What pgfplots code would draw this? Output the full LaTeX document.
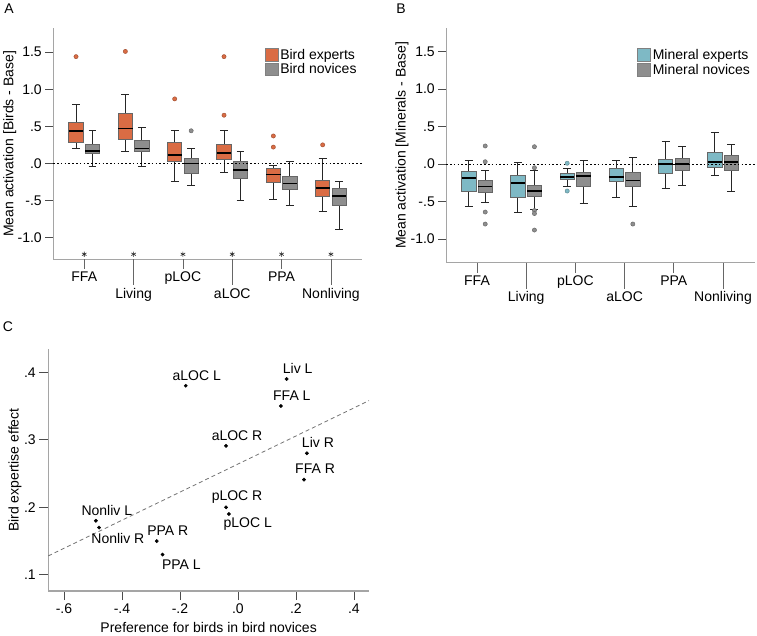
\documentclass[border=0pt]{standalone}
\usepackage{fontspec}
\setmainfont{Liberation Sans}
\usepackage{pgfplots}
\pgfplotsset{compat=1.18}
\usepgfplotslibrary{statistics}

\definecolor{birdor}{RGB}{218,108,68}
\definecolor{minteal}{RGB}{126,185,197}
\definecolor{novgray}{RGB}{142,142,142}
\definecolor{axgray}{RGB}{165,165,165}
\newcommand\fs{\fontsize{14bp}{16.7bp}\selectfont}
\tikzset{xt/.style={black!60, line width=0.8pt}}

\pgfplotsset{
  panel/.style={
    scale only axis, axis x line=bottom, axis y line=left,
    axis line style={axgray, line width=1.2pt, -},
    tick align=outside, tick style={black!70, line width=0.8pt},
    major tick length=8bp,
    tick label style={font=\fs}, label style={font=\fs},
    clip=false,
  },
  bxp/.style 2 args={
    forget plot, boxplot/draw direction=y,
    solid, draw=black!80, line width=0.9pt,
    boxplot/box extend=0.29, boxplot/whisker extend=0.16,
    boxplot/every box/.style={draw=black!60, fill=#1, line width=0.8pt},
    boxplot/every whisker/.style={draw=black!85, line width=1pt},
    boxplot/every median/.style={draw=black, line width=1.8pt},
    mark=*, mark size=2.1bp, mark options={fill=#2, draw=#2!75!black, line width=0.5pt, solid},
  },
  ex/.style={bxp={birdor}{birdor}},
  nv/.style={bxp={novgray}{novgray}},
  mx/.style={bxp={minteal}{minteal}},
  sqleg/.style={legend image code/.code={\draw[##1] (0bp,-6.3bp) rectangle (12.7bp,6.3bp);}},
  boxpanel/.style={
    panel,
    xtick={0,1,2,3,4,5},
    xticklabels={\strut FFA,\strut\\Living,\strut pLOC,\strut\\aLOC,\strut PPA,\strut\\Nonliving},
    x tick style={draw=none},
    xticklabel style={align=center, anchor=north, inner sep=0pt, yshift=-2.5bp},
    ytick={-1,-0.5,0,0.5,1,1.5}, yticklabels={-1.0,-.5,.0,.5,1.0,1.5},
    legend style={draw=none, fill=none, at={(axis description cs:0.99,0.92)}, anchor=north east,
      inner sep=0pt, font=\fs, row sep=-1bp, legend cell align=left},
  },
}

% style, position, lower whisker, lower quartile, median, upper quartile, upper whisker, outliers
\newcommand{\bx}[8]{\addplot[#1, boxplot prepared={draw position=#2, lower whisker=#3,
  lower quartile=#4, median=#5, upper quartile=#6, upper whisker=#7}] coordinates {#8};}
% category tick lines below the x axis, long ones for the lower labels
\newcommand{\catticks}{%
  \pgfplotsinvokeforeach{0,2,4}{\draw[xt] (axis cs:##1,\pgfkeysvalueof{/pgfplots/ymin})
    -- ([yshift=-10bp]axis cs:##1,\pgfkeysvalueof{/pgfplots/ymin});}
  \pgfplotsinvokeforeach{1,3,5}{\draw[xt] (axis cs:##1,\pgfkeysvalueof{/pgfplots/ymin})
    -- ([yshift=-26bp]axis cs:##1,\pgfkeysvalueof{/pgfplots/ymin});}}

\begin{document}
\begin{tikzpicture}
\useasboundingbox (0,0) rectangle (757bp,636bp);

\node[font=\fs] at (9bp,627bp) {A};
\node[font=\fs] at (401bp,627bp) {B};
\node[font=\fs] at (8bp,309bp) {C};

% panel A
\begin{axis}[boxpanel, at={(53.3bp,376.7bp)}, anchor=south west,
  width=308.5bp, height=231bp,
  xmin=-0.628, xmax=5.626, ymin=-1.293, ymax=1.822,
  ylabel={Mean activation [Birds - Base]},
  ylabel style={at={(axis description cs:-0.141,0.5)}, anchor=center}]
\addlegendimage{sqleg, fill=birdor, draw=black!50, line width=0.6pt}
\addlegendentry{Bird experts}
\addlegendimage{sqleg, fill=novgray, draw=black!50, line width=0.6pt}
\addlegendentry{Bird novices}

\bx{ex}{-0.167}{0.20}{0.29}{0.44}{0.55}{0.79}{(0,1.44)}
\bx{nv}{0.167}{-0.04}{0.135}{0.17}{0.26}{0.44}{}
\bx{ex}{0.833}{0.16}{0.32}{0.47}{0.68}{0.93}{(1,1.51)}
\bx{nv}{1.167}{-0.04}{0.16}{0.20}{0.31}{0.48}{}
\bx{ex}{1.833}{-0.24}{0.03}{0.11}{0.29}{0.45}{(2,0.87)}
\bx{nv}{2.167}{-0.30}{-0.13}{0.0}{0.07}{0.20}{(2,0.44)}
\bx{ex}{2.833}{-0.12}{0.06}{0.14}{0.26}{0.44}{(3,0.65) (3,1.44)}
\bx{nv}{3.167}{-0.50}{-0.20}{-0.09}{0.03}{0.16}{}
\bx{ex}{3.833}{-0.48}{-0.26}{-0.15}{-0.07}{-0.03}{(4,0.22) (4,0.37)}
\bx{nv}{4.167}{-0.57}{-0.35}{-0.27}{-0.18}{0.03}{}
\bx{ex}{4.833}{-0.65}{-0.44}{-0.33}{-0.23}{0.07}{(5,0.25)}
\bx{nv}{5.167}{-0.89}{-0.57}{-0.44}{-0.34}{-0.24}{}

\addplot[forget plot, only marks, mark=asterisk, mark size=2.6bp, black!85, line width=0.6pt]
  coordinates {(0,-1.225) (1,-1.225) (2,-1.225) (3,-1.225) (4,-1.225) (5,-1.225)};
\addplot[forget plot, black, line width=0.7pt, dash pattern=on 1.6pt off 2.2pt]
  coordinates {(-0.628,0) (5.626,0)};
\catticks
\end{axis}

% panel B
\begin{axis}[boxpanel, at={(446.3bp,373.3bp)}, anchor=south west,
  width=309bp, height=234.4bp,
  xmin=-0.624, xmax=5.656, ymin=-1.315, ymax=1.808,
  ylabel={Mean activation [Minerals - Base]},
  ylabel style={at={(axis description cs:-0.143,0.5)}, anchor=center}]
\addlegendimage{sqleg, fill=minteal, draw=black!50, line width=0.6pt}
\addlegendentry{Mineral experts}
\addlegendimage{sqleg, fill=novgray, draw=black!50, line width=0.6pt}
\addlegendentry{Mineral novices}

\bx{mx}{-0.167}{-0.56}{-0.37}{-0.19}{-0.10}{0.04}{}
\bx{nv}{0.167}{-0.51}{-0.38}{-0.30}{-0.22}{-0.08}{(0,0.24) (0,0.03) (0,-0.64) (0,-0.80)}
\bx{mx}{0.833}{-0.64}{-0.44}{-0.25}{-0.15}{0.02}{}
\bx{nv}{1.167}{-0.60}{-0.43}{-0.36}{-0.28}{-0.08}{(1,0.23) (1,-0.05) (1,-0.62) (1,-0.66) (1,-0.88)}
\bx{mx}{1.833}{-0.30}{-0.20}{-0.17}{-0.12}{-0.06}{(2,0.01) (2,-0.36)}
\bx{nv}{2.167}{-0.53}{-0.30}{-0.16}{-0.11}{0.05}{}
\bx{mx}{2.833}{-0.44}{-0.23}{-0.17}{-0.06}{0.04}{}
\bx{nv}{3.167}{-0.56}{-0.30}{-0.22}{-0.11}{0.08}{(3,-0.80)}
\bx{mx}{3.833}{-0.33}{-0.12}{0.0}{0.06}{0.30}{}
\bx{nv}{4.167}{-0.29}{-0.09}{0.0}{0.07}{0.23}{}
\bx{mx}{4.833}{-0.15}{-0.04}{0.03}{0.16}{0.42}{}
\bx{nv}{5.167}{-0.36}{-0.09}{0.03}{0.11}{0.26}{}

\addplot[forget plot, black, line width=0.7pt, dash pattern=on 1.6pt off 2.2pt]
  coordinates {(-0.624,0) (5.656,0)};
\catticks
\end{axis}

% panel C
\begin{axis}[panel, at={(48.3bp,45bp)}, anchor=south west,
  width=320.7bp, height=241.7bp,
  xmin=-0.654, xmax=0.452, ymin=0.076, ymax=0.434,
  major tick length=9bp,
  xtick={-0.6,-0.4,-0.2,0,0.2,0.4}, xticklabels={-.6,-.4,-.2,.0,.2,.4},
  ytick={0.1,0.2,0.3,0.4}, yticklabels={.1,.2,.3,.4},
  xlabel={Preference for birds in bird novices},
  ylabel={Bird expertise effect},
  xlabel style={at={(axis description cs:0.5,-0.153)}, anchor=center},
  ylabel style={at={(axis description cs:-0.104,0.5)}, anchor=center}]
\addplot[black!55, line width=0.8pt, dash pattern=on 4pt off 3pt]
  coordinates {(-0.654,0.128) (0.452,0.358)};
\addplot[only marks, mark=*, mark size=1.7bp, black, nodes near coords,
  point meta=explicit symbolic,
  every node near coord/.style={font=\fs, anchor=center, xshift=11bp, yshift=10.5bp, black}]
  coordinates {(-0.18,0.38) [aLOC L] (0.168,0.39) [Liv L] (0.148,0.35) [FFA L]
    (-0.041,0.291) [aLOC R] (0.238,0.28) [Liv R] (0.228,0.241) [FFA R]
    (-0.041,0.20) [pLOC R] (-0.49,0.18) [Nonliv L] (-0.28,0.15) [PPA R]};
\addplot[only marks, mark=*, mark size=1.7bp, black, nodes near coords,
  point meta=explicit symbolic,
  every node near coord/.style={font=\fs, anchor=center, xshift=18.8bp, yshift=-10.5bp, black}]
  coordinates {(-0.031,0.19) [pLOC L] (-0.479,0.17) [Nonliv R] (-0.26,0.13) [PPA L]};
\end{axis}
\end{tikzpicture}
\end{document}
